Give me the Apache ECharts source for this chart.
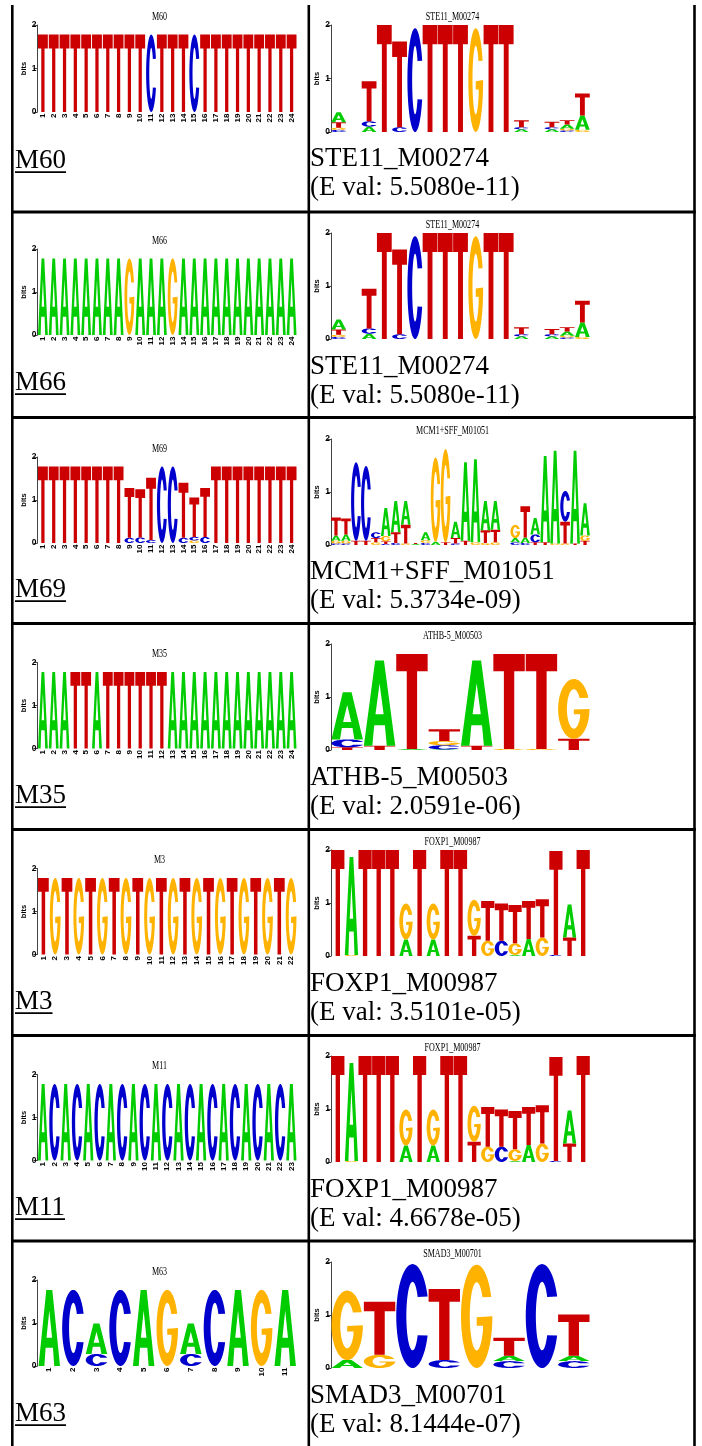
<!DOCTYPE html>
<html>
<head>
<meta charset="utf-8">
<script src="https://cdn.jsdelivr.net/npm/echarts@6/dist/echarts.min.js"></script>
<style>
html, body { margin: 0; padding: 0; background: #fff; }
#main { width: 702px; height: 1446px; }
</style>
</head>
<body>
<div id="main"></div>
<script>
// motif names (left column) and best matches (right column)
var leftNames = ['M60', 'M66', 'M69', 'M35', 'M3', 'M11', 'M63'];
var rightNames = ['STE11_M00274', 'STE11_M00274', 'MCM1+SFF_M01051', 'ATHB-5_M00503', 'FOXP1_M00987', 'FOXP1_M00987', 'SMAD3_M00701'];
var eVals = ['5.5080e-11', '5.5080e-11', '5.3734e-09', '2.0591e-06', '3.5101e-05', '4.6678e-05', '8.1444e-07'];

// logo columns: letters stacked bottom -> top, letter + bits
var M60 = ['T1.78','T1.78','T1.78','T1.78','T1.78','T1.78','T1.78','T1.78','T1.78','T1.78','C1.78','T1.78',
           'T1.78','T1.78','C1.78','T1.78','T1.78','T1.78','T1.78','T1.78','T1.78','T1.78','T1.78','T1.78'];
var M66 = ['A1.78','A1.78','A1.78','A1.78','A1.78','A1.78','A1.78','A1.78','G1.78','A1.78','A1.78','A1.78',
           'G1.78','A1.78','A1.78','A1.78','A1.78','A1.78','A1.78','A1.78','A1.78','A1.78','A1.78','A1.78'];
var M69 = ['T1.78','T1.78','T1.78','T1.78','T1.78','T1.78','T1.78','T1.78','C.12 T1.16','C.13 T1.12','C.07 T1.45','C1.78',
           'C1.78','C.12 T1.28','G.06 C.08 T.92','C.14 T1.14','T1.78','T1.78','T1.78','T1.78','T1.78','T1.78','T1.78','T1.78'];
var M35 = ['A1.78','A1.78','A1.78','T1.78','T1.78','A1.78','T1.78','T1.78','T1.78','T1.78','T1.78','T1.78',
           'A1.78','A1.78','A1.78','A1.78','A1.78','A1.78','A1.78','A1.78','A1.78','A1.78','A1.78','A1.78'];
var M3 = ['T1.78','G1.78','T1.78','G1.78','T1.78','G1.78','T1.78','G1.78','T1.78','G1.78','T1.78',
          'G1.78','T1.78','G1.78','T1.78','G1.78','T1.78','G1.78','T1.78','G1.78','T1.78','G1.78'];
var M11 = ['A1.78','C1.78','A1.78','C1.78','A1.78','C1.78','A1.78','C1.78','A1.78','C1.78','A1.78','C1.78',
           'A1.78','C1.78','A1.78','C1.78','A1.78','C1.78','A1.78','C1.78','A1.78','C1.78','A1.78'];
var M63 = ['A1.77','C1.77','C.28 A.71','C1.77','A1.77','G1.77','C.28 A.71','C1.77','A1.77','G1.77','A1.77'];

var STE11 = ['C.04 G.04 T.1 A.19', '', 'A.1 C.1 T.75', 'T2', 'C.09 T1.6', 'C1.94', 'T2', 'T2', 'T2', 'G1.94',
             'T2', 'T2', 'A.05 C.04 T.13', '', 'A.05 C.04 T.1', 'C.03 G.03 A.08 T.08', 'G.04 A.27 T.41'];
var MCM1 = ['C.03 G.05 A.1 T.34', 'C.03 G.05 A.12 T.3', 'T.08 C1.48', 'T.08 C1.41', 'G.05 T.08 C.11',
            'C.02 T.05 G.1 A.53', 'C.04 T.2 A.59', 'G.03 T.35 A.45', 'A.02 T.02', 'C.04 G.05 A.15',
            'A.06 G1.59', 'T.05 G1.76', 'C.03 T.1 A.31', 'T.08 A1.48', 'G.05 A1.57', 'G.04 T.24 A.55',
            'G.05 T.24 A.54', '', 'C.05 A.08 G.25', 'C.04 A.1 T.59', 'T.05 C.15 A.31', 'T.05 A1.63',
            'G.03 A1.75', 'G.03 T.41 C.58', 'T.03 A1.75', 'T.08 G.1 A.61'];
var ATHB5 = ['T.05 C.15 A.89', 'T.08 A1.61', 'A.02 T1.79', 'A.01 C.08 G.08 T.22', 'T.08 A1.61',
             'G.02 T1.79', 'G.02 T1.79', 'T.21 G1.13'];
var FOXP1 = ['T2', 'G.02 A1.85', 'T2', 'T2', 'T2', 'A.31 G.68', 'T2', 'A.31 G.68', 'T2', 'T2', 'T.38 G.68',
             'G.29 T.75', 'C.29 T.7', 'A.02 G.22 T.72', 'A.32 T.72', 'G.35 T.72', 'C.02 T1.96', 'T.35 A.62', 'T2'];
var SMAD3 = ['A.15 G1.31', 'G.25 T1.0', 'C1.96', 'C.15 T1.34', 'G1.95', 'C.13 A.1 T.34', 'C1.96', 'C.13 A.1 T.78'];

var leftLogos = [M60, M66, M69, M35, M3, M11, M63];
var rightLogos = [STE11, STE11, MCM1, ATHB5, FOXP1, FOXP1, SMAD3];

var LETTERS = 'ACGT';
var COLOR = { A: '#00cc00', C: '#0000cc', G: '#ffb300', T: '#cc0000' };

// glyph outlines in a 100x100 box, stretched to each letter's box
function arcPts(rx, ry, a0, a1, n) {
    var pts = [];
    for (var i = 0; i <= n; i++) {
        var t = (a0 + (a1 - a0) * i / n) * Math.PI / 180;
        pts.push((50 + rx * Math.cos(t)).toFixed(2) + ' ' + (50 + ry * Math.sin(t)).toFixed(2));
    }
    return pts;
}
var GLYPH = {
    A: 'M0 100L36 0L64 0L100 100L73 100L67 76L33 76L27 100Z M37 63L63 63L50 27Z',
    T: 'M0 0L100 0L100 18L66.5 18L66.5 100L33.5 100L33.5 18L0 18Z',
    C: 'M' + arcPts(50, 50, -22, -338, 64).concat(arcPts(19, 33, 34, 326, 48)).join('L') + 'Z',
    G: 'M' + arcPts(50, 50, -22, -360, 64).concat(['50 51', '50 59', '70 59', '70 64'])
        .concat(arcPts(22, 33, 25, 326, 48)).join('L') + 'Z'
};

function letterData(cols) {
    var out = [];
    cols.forEach(function (c, i) {
        var y = 0;
        c.split(' ').forEach(function (tok) {
            if (!tok) return;
            var h = parseFloat(tok.slice(1));
            out.push([i, y, y + h, LETTERS.indexOf(tok[0])]);
            y += h;
        });
    });
    return out;
}

function drawLetter(params, api) {
    var col = api.value(0);
    var ch = LETTERS[api.value(3)];
    var bot = api.coord([col, api.value(1)]);
    var top = api.coord([col, api.value(2)]);
    var w = api.size([1, 0])[0] * (params.seriesIndex < 7 ? 0.91 : 0.97);
    return {
        type: 'path',
        shape: {
            pathData: GLYPH[ch],
            x: bot[0] - w / 2, y: top[1],
            width: w, height: Math.max(bot[1] - top[1], 0.6),
            layout: 'cover'
        },
        style: { fill: COLOR[ch] }
    };
}

// layout of the table
var lineY = [212, 417.5, 623.5, 829.5, 1035.5, 1241];
var leftTop = [25, 249, 457, 662.5, 868.5, 1074.5, 1280];
var rightTop = [25, 233, 439, 644, 850, 1056, 1262];
var leftBase = [170, 392, 599, 805, 1011, 1217, 1423];
var rightBase = [168, 376, 581, 787, 993, 1199, 1405];

var grids = [], xAxes = [], yAxes = [], series = [], graphics = [];
var sans = '"Liberation Sans", Arial, sans-serif';
var serif = '"Liberation Serif", "Times New Roman", serif';

function yAxisFor(i) {
    return {
        gridIndex: i, type: 'value', min: 0, max: 2, interval: 1,
        name: 'bits', nameLocation: 'middle', nameRotate: 90, nameGap: 9,
        nameTextStyle: { fontSize: 7.5, fontWeight: 'bold', color: '#000', fontFamily: sans },
        axisLine: { show: true, lineStyle: { color: '#444', width: 1 } },
        axisTick: { show: true, length: 4, lineStyle: { color: '#444' } },
        axisLabel: { fontSize: 8.5, fontWeight: 'bold', color: '#000', margin: 1, fontFamily: sans },
        splitLine: { show: false }
    };
}

leftLogos.forEach(function (cols, r) {
    grids.push({ left: 37.5, top: leftTop[r], width: 259.5, height: r === 0 ? 87 : 86 });
    xAxes.push({
        gridIndex: r, type: 'category',
        data: cols.map(function (c, i) { return String(i + 1); }),
        axisLine: { show: false }, axisTick: { show: false },
        axisLabel: { rotate: 90, interval: 0, fontSize: 8, fontWeight: 'bold', color: '#000', margin: 1.5, fontFamily: sans }
    });
    yAxes.push(yAxisFor(r));
});
rightLogos.forEach(function (cols, r) {
    var k = r + 7;
    grids.push({ left: 331, top: rightTop[r], width: 259, height: r === 0 ? 107 : 106 });
    xAxes.push({ gridIndex: k, type: 'category', show: false, data: cols.map(function (c, i) { return i; }) });
    yAxes.push(yAxisFor(k));
});
leftLogos.concat(rightLogos).forEach(function (cols, k) {
    series.push({
        type: 'custom', xAxisIndex: k, yAxisIndex: k, renderItem: drawLetter,
        data: letterData(cols), encode: { x: 0, y: [1, 2] }, clip: false, silent: true
    });
});

// table borders
function rect(x, y, w, h) {
    return { type: 'rect', silent: true, shape: { x: x, y: y, width: w, height: h }, style: { fill: '#000' } };
}
graphics.push(rect(11, 5, 2.6, 1441), rect(307.5, 5, 2.6, 1441), rect(693.2, 5, 2.6, 1441));
lineY.forEach(function (y) { graphics.push(rect(11, y - 1.5, 684.8, 3)); });

function txt(x, y, s, font, align, sx) {
    return {
        type: 'text', x: x, y: y, scaleX: sx || 1, silent: true,
        style: { text: s, font: font, fill: '#000', align: align, textAlign: align, verticalAlign: 'middle', textVerticalAlign: 'middle' }
    };
}
var ctx = document.createElement('canvas').getContext('2d');
ctx.font = '27px ' + serif;

leftNames.forEach(function (name, r) {
    graphics.push(txt(159.5, leftTop[r] - 8.5, name, '11.5px ' + serif, 'center', 0.7));
    graphics.push(txt(15, leftBase[r] - 9.1, name, '27px ' + serif, 'left'));
    graphics.push(rect(15, leftBase[r] + 1.3, ctx.measureText(name).width, 1.7));
});
rightNames.forEach(function (name, r) {
    graphics.push(txt(452.5, rightTop[r] - 8.5, name, '11.5px ' + serif, 'center', 0.7));
    graphics.push(txt(310, rightBase[r] - 9.1, name, '27px ' + serif, 'left'));
    graphics.push(txt(310, rightBase[r] + 28.7 - 9.1, '(E val: ' + eVals[r] + ')', '27px ' + serif, 'left'));
});

var chart = echarts.init(document.getElementById('main'));
chart.setOption({
    animation: false,
    grid: grids,
    xAxis: xAxes,
    yAxis: yAxes,
    series: series,
    graphic: graphics
});
</script>
</body>
</html>
